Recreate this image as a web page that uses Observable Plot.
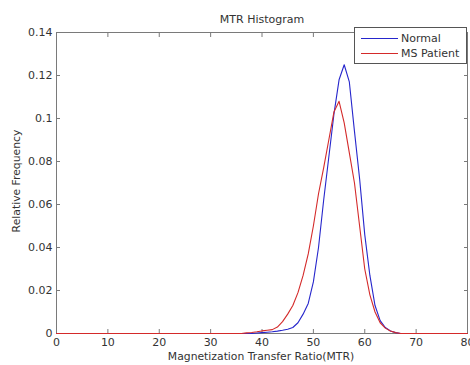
<!DOCTYPE html>
<html>
<head>
<meta charset="utf-8">
<script src="https://cdn.jsdelivr.net/npm/d3@7"></script>
<script src="https://cdn.jsdelivr.net/npm/@observablehq/plot@0.6"></script>
<style>
  html, body { margin: 0; padding: 0; background: #fff; }
  #chart { position: relative; width: 470px; height: 365px; }
  svg text { font-family: "DejaVu Sans", sans-serif; }
</style>
</head>
<body>
<div id="chart"></div>
<script>
// MTR bins (0..80)
const mtrBins = d3.range(0, 81);
// Relative frequency, Normal (blue)
const normalFreq = [
  0,0,0,0,0,0,0,0,0,0,
  0,0,0,0,0,0,0,0,0,0,
  0,0,0,0,0,0,0,0,0,0,
  0,0,0,0,0,0,0,0,0,0.0002,
  0.0004,0.0006,0.0008,0.0011,0.0015,0.002,0.0028,0.005,0.009,0.014,
  0.024,0.040,0.062,0.082,0.102,0.118,0.125,0.117,0.094,0.072,
  0.046,0.027,0.013,0.006,0.0028,0.0012,0.0004,0,0,0,
  0,0,0,0,0,0,0,0,0,0,
  0
];
// Relative frequency, MS Patient (red)
const msFreq = [
  0,0,0,0,0,0,0,0,0,0,
  0,0,0,0,0,0,0,0,0,0,
  0,0,0,0,0,0,0,0,0,0,
  0,0,0,0,0,0,0,0.0003,0.0005,0.0008,
  0.0012,0.0015,0.0018,0.003,0.0055,0.009,0.013,0.019,0.027,0.037,
  0.050,0.065,0.077,0.090,0.103,0.108,0.098,0.084,0.070,0.050,
  0.030,0.018,0.010,0.005,0.0025,0.0012,0.0004,0,0,0,
  0,0,0,0,0,0,0,0,0,0,
  0
];
const seriesNames = ["Normal", "MS Patient"];
const seriesColors = ["#2626cc", "#d42a2a"];
const xTicks = [0, 10, 20, 30, 40, 50, 60, 70, 80];
const yTicks = [0, 0.02, 0.04, 0.06, 0.08, 0.1, 0.12, 0.14];
const titleText = "MTR Histogram";
const xLabel = "Magnetization Transfer Ratio(MTR)";
const yLabel = "Relative Frequency";

const rows = [];
mtrBins.forEach((m, i) => {
  rows.push({mtr: m, freq: normalFreq[i], series: seriesNames[0]});
});
mtrBins.forEach((m, i) => {
  rows.push({mtr: m, freq: msFreq[i], series: seriesNames[1]});
});

const axisGrey = "#7a7a7a";
const textCol = "#333";
const fmt = d => String(+d.toFixed(2));

const plot = Plot.plot({
  width: 470,
  height: 365,
  marginLeft: 56,
  marginRight: 3,
  marginTop: 32,
  marginBottom: 32,
  style: {fontFamily: "DejaVu Sans, sans-serif", fontSize: "11px", color: textCol, background: "#fff"},
  x: {domain: [0, 80]},
  y: {domain: [0, 0.14]},
  color: {domain: seriesNames, range: seriesColors},
  marks: [
    Plot.frame({stroke: axisGrey}),
    // inward ticks
    Plot.axisX({anchor: "bottom", ticks: xTicks, tickSize: 4, dy: -4, text: null, stroke: axisGrey, label: null}),
    Plot.axisX({anchor: "top", ticks: xTicks, tickSize: 4, dy: 4, text: null, stroke: axisGrey, label: null}),
    Plot.axisY({anchor: "left", ticks: yTicks, tickSize: 4, dx: 4, text: null, stroke: axisGrey, label: null}),
    Plot.axisY({anchor: "right", ticks: yTicks, tickSize: 4, dx: -4, text: null, stroke: axisGrey, label: null}),
    // tick labels
    Plot.axisX({anchor: "bottom", ticks: xTicks, tickSize: 0, tickPadding: 5, tickFormat: fmt, fill: textCol, label: null}),
    Plot.axisY({anchor: "left", ticks: yTicks, tickSize: 0, tickPadding: 4, tickFormat: fmt, fill: textCol, label: null}),
    Plot.line(rows, {x: "mtr", y: "freq", z: "series", stroke: "series", strokeWidth: 1.1})
  ]
});

const svg = d3.select(plot);
svg.append("text")
  .attr("x", 262).attr("y", 23)
  .attr("text-anchor", "middle")
  .attr("fill", textCol).attr("font-size", 11)
  .text(titleText);
svg.append("text")
  .attr("x", 261).attr("y", 360)
  .attr("text-anchor", "middle")
  .attr("fill", textCol).attr("font-size", 10.8)
  .text(xLabel);
svg.append("text")
  .attr("transform", "translate(20,181) rotate(-90)")
  .attr("text-anchor", "middle")
  .attr("fill", textCol).attr("font-size", 10.8)
  .text(yLabel);

// legend box
const lg = svg.append("g").attr("text-anchor", "start");
lg.append("rect")
  .attr("x", 354.5).attr("y", 27.5).attr("width", 112).attr("height", 36)
  .attr("fill", "#fff").attr("stroke", "#555");
seriesNames.forEach((name, i) => {
  const yy = 38.5 + i * 15;
  lg.append("line")
    .attr("x1", 361).attr("x2", 398).attr("y1", yy).attr("y2", yy)
    .attr("stroke", seriesColors[i]).attr("stroke-width", 1);
  lg.append("text")
    .attr("x", 401).attr("y", yy).attr("dy", "0.35em")
    .attr("text-anchor", "start")
    .attr("fill", textCol).attr("font-size", 11)
    .text(name);
});

document.getElementById("chart").appendChild(plot);
</script>
</body>
</html>
